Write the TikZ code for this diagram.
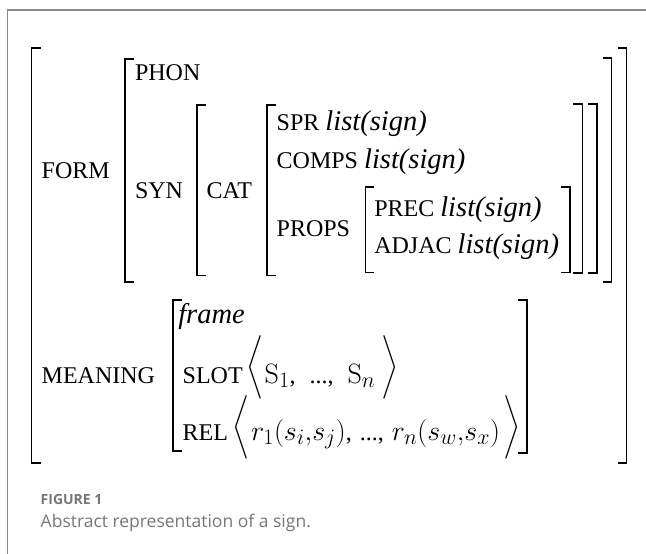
\RequirePackage{fix-cm}
\documentclass[tikz,border=0pt]{standalone}
\usepackage{amsmath}
\usepackage{graphicx}
\usepackage[no-math]{fontspec}
\setmainfont{Liberation Serif}
\newfontfamily\capfont{Open Sans}
\DeclareMathSizes{24}{28}{22}{16}
\definecolor{framegray}{RGB}{138,138,138}
\definecolor{capgray}{RGB}{118,118,118}
\newcommand\itx[1]{{\fontsize{28.5}{30}\selectfont\itshape #1}}
\newcommand\angb[2]{\raisebox{#1}{\scalebox{0.85}{$\bigg#2$}}}
\begin{document}
\begin{tikzpicture}[x=1pt,y=-1pt,
  avm/.style={anchor=base west, inner sep=0pt, outer sep=0pt, font=\fontsize{24}{28}\selectfont},
  brk/.style={line width=1.6pt, line cap=butt, line join=miter},
  frm/.style={line width=1.5pt, draw=framegray},
  capt/.style={anchor=base west, inner sep=0pt, outer sep=0pt, text=capgray}]
\useasboundingbox (0,0) rectangle (646,554);
% frame
\coordinate (ftl) at (7.5,10);
\coordinate (ftr) at (646,10);
\coordinate (fbl) at (7.5,554);
\draw[frm] (ftr) -- (ftl) -- (fbl);
% brackets
\newcommand\lbrk[3]{\draw[brk] (#1+9,#2) -- (#1,#2) -- (#1,#3) -- (#1+9,#3);}
\newcommand\rbrk[3]{\draw[brk] (#1-9,#2) -- (#1,#2) -- (#1,#3) -- (#1-9,#3);}
\lbrk{31.5}{48}{463}
\rbrk{626.5}{48}{463}
\lbrk{125}{59}{282}
\rbrk{611.5}{58}{282}
\lbrk{196.7}{105}{275.5}
\rbrk{597}{104}{273}
\lbrk{266.7}{105}{275.5}
\rbrk{582.3}{104}{273}
\lbrk{365.3}{187}{272.5}
\rbrk{570}{187}{272.5}
\lbrk{172.7}{300}{451}
\rbrk{526.7}{300}{453}
% texts
\node[avm] (form) at (41.7,178.3) {FORM};
\node[avm] (phon) at (135,80) {PHON};
\node[avm] (syn) at (135,198.3) {SYN};
\node[avm] (cat) at (206.7,198.3) {CAT};
\node[avm] (spr) at (276.7,130) {SPR \itx{list(sign)}};
\node[avm] (comps) at (276.7,168.3) {COMPS \itx{list(sign)}};
\node[avm] (props) at (276.7,236.7) {PROPS};
\node[avm] (prec) at (374.3,216.7) {PREC \itx{list(sign)}};
\node[avm] (adjac) at (374.3,253.3) {ADJAC \itx{list(sign)}};
\node[avm] (meaning) at (41.7,383.3) {MEANING};
\node[avm] (frame) at (178.3,323.3) {\itx{frame}};
\node[avm] (slot) at (182.7,383.3) {SLOT\hspace{4pt}\angb{10.3pt}{\langle}\hspace{1pt}$\mathrm{S}_1$,\hspace{14pt}...,\hspace{14pt}$\mathrm{S}_n$\hspace{6pt}\angb{10.3pt}{\rangle}};
\node[avm] (rel) at (182.7,440) {REL\hspace{4pt}\angb{6.5pt}{\langle}\hspace{2pt}$r_1(s_i{,}s_j)$,\hspace{8pt}...,\hspace{8pt}$r_n(s_w{,}s_x)$\hspace{3pt}\angb{6.5pt}{\rangle}};
% caption
\node[capt, font=\capfont\bfseries\fontsize{14}{16}\selectfont] (fig) at (40.7,504) {FIGURE 1};
\node[capt, font=\capfont\fontsize{17.5}{20}\selectfont] (cap) at (40.7,527) {Abstract representation of a sign.};
\end{tikzpicture}
\end{document}
